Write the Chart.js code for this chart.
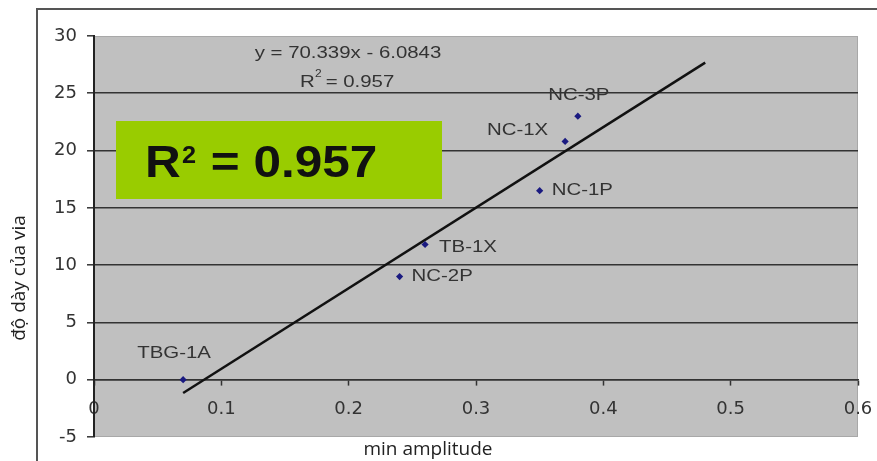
<!DOCTYPE html>
<html>
<head>
<meta charset="utf-8">
<script src="https://cdn.jsdelivr.net/npm/chart.js@4"></script>
<style>
  body { margin: 0; background: #fff; }
  #wrap { width: 877px; height: 461px; position: relative; }
</style>
</head>
<body>
<div id="wrap"><canvas id="graficoVia"></canvas></div>
<script>
// dados
const sampleNames = ['TBG-1A', 'NC-2P', 'TB-1X', 'NC-1P', 'NC-1X', 'NC-3P'];
const minAmplitude = [0.07, 0.24, 0.26, 0.35, 0.37, 0.38];
const viaThickness = [0, 9, 11.8, 16.5, 20.8, 23];
const trendX = [0.07, 0.48];
const trendY = [-1.16, 27.68];
const equationText = 'y = 70.339x - 6.0843';
const r2Text = '0.957';
const xTitle = 'min amplitude';
const yTitle = 'độ dày của via';

// posição dos rótulos de cada ponto: [dx, dy, align]
const labelOffsets = [
    [-9, -26, 'center'],
    [12, 0, 'left'],
    [14, 3, 'left'],
    [12, 0, 'left'],
    [-17, -11, 'right'],
    [1, -21, 'center']
];

function stretchedText(ctx, text, x, y, align, sx) {
    ctx.save();
    ctx.translate(x, y);
    ctx.scale(sx, 1);
    ctx.textAlign = align;
    ctx.fillText(text, 0, 0);
    ctx.restore();
}

// fundo, moldura e textos
const decorPlugin = {
    id: 'decor',
    beforeDraw(chart) {
        const ctx = chart.ctx;
        const a = chart.chartArea;
        ctx.save();
        ctx.fillStyle = '#fff';
        ctx.fillRect(0, 0, chart.width, chart.height);
        ctx.strokeStyle = '#555';
        ctx.lineWidth = 2;
        ctx.beginPath();
        ctx.moveTo(37, chart.height);
        ctx.lineTo(37, 9);
        ctx.lineTo(chart.width, 9);
        ctx.stroke();
        ctx.fillStyle = '#c0c0c0';
        ctx.fillRect(a.left, a.top, a.right - a.left, a.bottom - a.top);
        ctx.strokeStyle = '#a8a8a8';
        ctx.lineWidth = 1;
        ctx.strokeRect(a.left + 0.5, a.top + 0.5, a.right - a.left - 1, a.bottom - a.top - 1);
        ctx.restore();
    },
    afterDraw(chart) {
        const ctx = chart.ctx;
        const meta = chart.getDatasetMeta(0);
        ctx.save();
        ctx.fillStyle = '#333';
        ctx.textBaseline = 'middle';
        ctx.font = '17px "Liberation Sans", Arial, sans-serif';
        meta.data.forEach((pt, i) => {
            const o = labelOffsets[i];
            stretchedText(ctx, sampleNames[i], pt.x + o[0], pt.y + o[1], o[2], 1.2);
        });

        // equação da tendência
        ctx.font = '17px "Liberation Sans", Arial, sans-serif';
        stretchedText(ctx, equationText, 348, 53, 'center', 1.2);
        stretchedText(ctx, 'R', 300, 82, 'left', 1.2);
        ctx.font = '10px "Liberation Sans", Arial, sans-serif';
        stretchedText(ctx, '2', 315, 74, 'left', 1.2);
        ctx.font = '17px "Liberation Sans", Arial, sans-serif';
        stretchedText(ctx, ' = ' + r2Text, 320, 82, 'left', 1.2);

        // caixa verde
        ctx.fillStyle = '#99cc00';
        ctx.fillRect(116, 121, 326, 78);
        ctx.fillStyle = '#111';
        ctx.textBaseline = 'alphabetic';
        ctx.font = 'bold 45px "Liberation Sans", Arial, sans-serif';
        stretchedText(ctx, 'R', 145, 177, 'left', 1.1);
        ctx.font = 'bold 23px "Liberation Sans", Arial, sans-serif';
        stretchedText(ctx, '2', 182, 163, 'left', 1.1);
        ctx.font = 'bold 45px "Liberation Sans", Arial, sans-serif';
        stretchedText(ctx, ' = ' + r2Text, 197, 177, 'left', 1.1);

        // títulos dos eixos
        ctx.fillStyle = '#222';
        ctx.textBaseline = 'middle';
        ctx.font = '19px "Open Sans", sans-serif';
        ctx.textAlign = 'center';
        ctx.fillText(xTitle, 428, 450);
        ctx.save();
        ctx.translate(20, 278);
        ctx.rotate(-Math.PI / 2);
        ctx.fillText(yTitle, 0, 0);
        ctx.restore();
        ctx.restore();
    }
};

const ctxVia = document.getElementById('graficoVia').getContext('2d');
const graficoVia = new Chart(ctxVia, {
    type: 'scatter',
    data: {
        datasets: [{
            label: 'via',
            data: minAmplitude.map((x, i) => ({ x: x, y: viaThickness[i] })),
            pointStyle: 'rectRot',
            pointRadius: 3.6,
            backgroundColor: '#1a1a80',
            borderColor: '#1a1a80',
            borderWidth: 0
        }, {
            label: 'trend',
            type: 'line',
            data: trendX.map((x, i) => ({ x: x, y: trendY[i] })),
            borderColor: '#111',
            borderWidth: 2.5,
            pointRadius: 0,
            fill: false
        }]
    },
    options: {
        responsive: true,
        maintainAspectRatio: false,
        animation: false,
        layout: { padding: { left: 0, top: 36, right: 19, bottom: 24 } },
        plugins: { legend: { display: false }, tooltip: { enabled: false } },
        scales: {
            x: {
                type: 'linear',
                position: { y: 0 },
                min: 0,
                max: 0.6,
                afterFit(scale) {
                    scale.height = 0;
                    scale.paddingLeft = 0;
                    scale.paddingRight = 0;
                },
                ticks: {
                    stepSize: 0.1,
                    padding: 14,
                    color: '#333',
                    font: { family: 'DejaVu Sans', size: 18 },
                    maxRotation: 0
                },
                grid: { drawOnChartArea: false, tickLength: 5, tickColor: '#333', tickWidth: 1.5 },
                border: { color: '#333', width: 1.6 }
            },
            y: {
                min: -5,
                max: 30,
                afterFit(scale) {
                    scale.width = 94;
                    scale.paddingTop = 0;
                    scale.paddingBottom = 0;
                },
                ticks: {
                    stepSize: 5,
                    padding: 10,
                    color: '#333',
                    font: { family: 'DejaVu Sans', size: 18 }
                },
                grid: {
                    color: (c) => (c.tick && (c.tick.value === 30 || c.tick.value === -5)) ? 'rgba(0,0,0,0)' : '#333',
                    lineWidth: 1.6,
                    tickLength: 7,
                    tickColor: '#333',
                    tickWidth: 1.5
                },
                border: { color: '#222', width: 2 }
            }
        }
    },
    plugins: [decorPlugin]
});
</script>
</body>
</html>
